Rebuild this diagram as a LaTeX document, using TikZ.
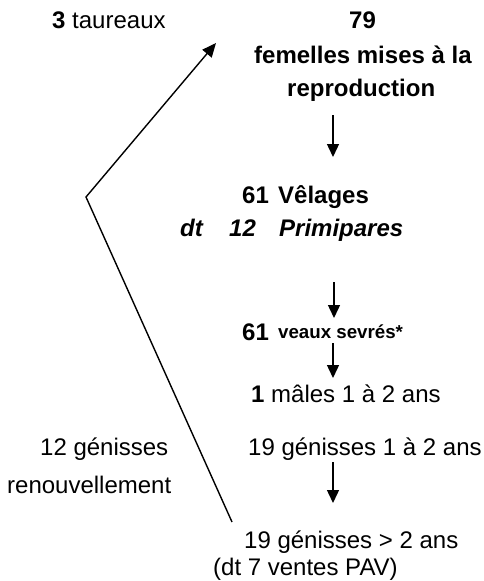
\documentclass[tikz,border=0pt]{standalone}
\usepackage{fontspec}
\setmainfont{Liberation Sans}
\usetikzlibrary{arrows.meta}
\begin{document}
\begin{tikzpicture}[x=1pt,y=-1pt,
  txt/.style={inner sep=0pt, anchor=base west, font=\fontsize{24}{28}\selectfont},
  small/.style={inner sep=0pt, anchor=base west, font=\fontsize{18.7}{22}\selectfont\bfseries},
  flow/.style={line width=1.4pt, -{Triangle[length=13pt,width=12pt]}},
  feed/.style={line width=1.4pt, -{Triangle[length=14pt,width=12pt]}}]
\useasboundingbox (0,0) rectangle (483,581);
\fill[white] (0,0) rectangle (483,581);
% texts
\node[txt] (taur) at (52,28) {\textbf{3} taureaux};
\node[txt] (n79) at (349,28) {\textbf{79}};
\node[txt] (fem) at (254,63) {\textbf{femelles mises à la}};
\node[txt] (repro) at (287,96) {\textbf{reproduction}};
\node[txt] (v61) at (242,203) {\textbf{61}};
\node[txt] (vel) at (278,203) {\textbf{Vêlages}};
\node[txt] (dt) at (180,236) {\textbf{\itshape dt}};
\node[txt] (d12) at (229,236) {\textbf{\itshape 12}};
\node[txt] (prim) at (279,236) {\textbf{\itshape Primipares}};
\node[txt] (s61) at (242,340) {\textbf{61}};
\node[small] (sev) at (278,338) {veaux sevrés*};
\node[txt] (males) at (251,402) {\textbf{1} mâles 1 à 2 ans};
\node[txt] (gen12) at (248,455) {19 génisses 1 à 2 ans};
\node[txt] (ren1) at (40,455) {12 génisses};
\node[txt] (ren2) at (7,493) {renouvellement};
\node[txt] (gen2) at (244,548) {19 génisses > 2 ans};
\node[txt] (pav) at (213,575) {(dt 7 ventes PAV)};
% arrow ends
\coordinate (a1s) at (333,115); \coordinate (a1e) at (333,157);
\coordinate (a2s) at (334,282); \coordinate (a2e) at (334,318);
\coordinate (a3s) at (333,343); \coordinate (a3e) at (333,378);
\coordinate (a4s) at (333,462); \coordinate (a4e) at (333,503);
\draw[flow] (a1s) -- (a1e);
\draw[flow] (a2s) -- (a2e);
\draw[flow] (a3s) -- (a3e);
\draw[flow] (a4s) -- (a4e);
% renewal line
\coordinate (lb) at (232,522);
\coordinate (lv) at (86,197);
\coordinate (lt) at (216,43);
\draw[feed, line join=miter] (lb) -- (lv) -- (lt);
\end{tikzpicture}
\end{document}
